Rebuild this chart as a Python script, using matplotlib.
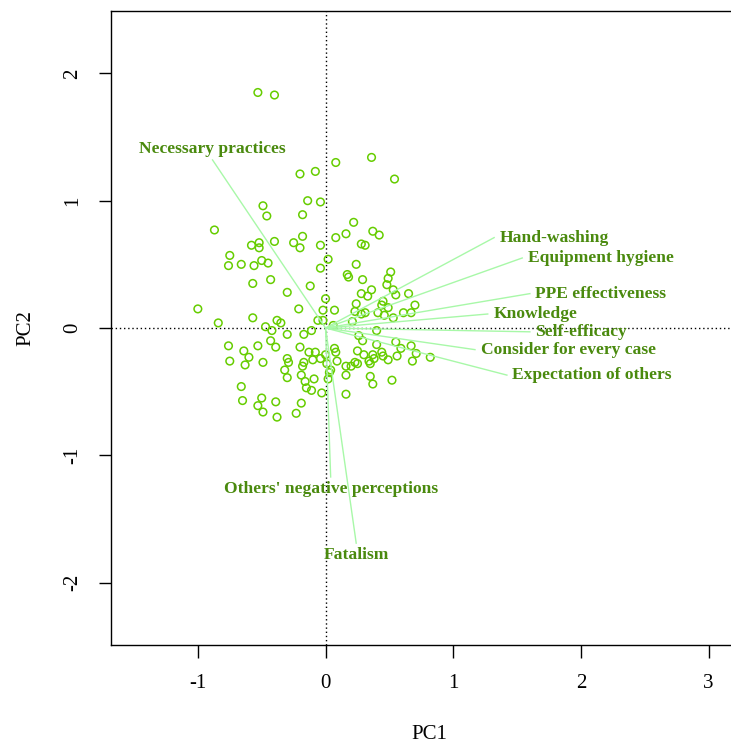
import numpy as np
import matplotlib
matplotlib.use("Agg")
import matplotlib.pyplot as plt

plt.rcParams["font.family"] = ["Liberation Serif", "DejaVu Serif"]
plt.rcParams["axes.unicode_minus"] = False

# individual scores (PC1, PC2)
pc1 = [-0.53, -0.40, 0.08, 0.36, 0.54, -0.20, -0.08, -0.14, -0.04, -0.49,
       -0.46, -0.18, 0.22, -0.87, -0.18, 0.08, 0.16, 0.37, 0.42, -0.58,
       -0.52, -0.52, -0.40, -0.25, -0.20, -0.04, 0.28, 0.31, -0.75, -0.76,
       -0.66, -0.56, -0.50, -0.45, 0.02, -0.04, 0.24, -0.57, -0.43, -0.30,
       -0.12, 0.17, 0.18, 0.29, 0.51, 0.49, 0.48, 0.53, 0.55, 0.65,
       0.36, 0.28, 0.33, 0.24, 0.45, 0.44, 0.49, 0.70, 0.61, 0.67,
       0.41, 0.46, 0.53, 0.23, 0.28, 0.31, 0.21, 0.07, 0.00, -0.02,
       -0.06, -0.02, 0.06, -0.21, -1.00, -0.84, -0.57, -0.38, -0.35, -0.47,
       -0.42, -0.30, -0.17, -0.11, 0.40, 0.26, 0.29, 0.40, 0.55, 0.59,
       0.67, 0.71, 0.82, 0.68, 0.56, 0.49, 0.44, 0.45, 0.37, 0.38,
       0.34, 0.35, 0.30, 0.25, 0.25, 0.23, 0.20, 0.16, 0.09, 0.07,
       0.08, 0.00, 0.01, 0.04, 0.03, 0.02, 0.16, 0.35, 0.37, 0.52,
       0.16, -0.03, -0.20, -0.13, -0.08, -0.10, -0.04, -0.17, -0.18, -0.19,
       -0.09, -0.16, -0.15, -0.11, -0.19, -0.76, -0.53, -0.43, -0.39, -0.64,
       -0.60, -0.75, -0.63, -0.49, -0.30, -0.29, -0.32, -0.30, -0.66, -0.65,
       -0.50, -0.53, -0.49, -0.39, -0.38, -0.23]
pc2 = [1.85, 1.83, 1.30, 1.34, 1.17, 1.21, 1.23, 1.00, 0.99, 0.96,
       0.88, 0.89, 0.83, 0.77, 0.72, 0.71, 0.74, 0.76, 0.73, 0.65,
       0.67, 0.63, 0.68, 0.67, 0.63, 0.65, 0.66, 0.65, 0.57, 0.49,
       0.50, 0.49, 0.53, 0.51, 0.54, 0.47, 0.50, 0.35, 0.38, 0.28,
       0.33, 0.42, 0.40, 0.38, 0.44, 0.39, 0.34, 0.30, 0.26, 0.27,
       0.30, 0.27, 0.25, 0.19, 0.21, 0.18, 0.16, 0.18, 0.12, 0.12,
       0.12, 0.10, 0.08, 0.13, 0.11, 0.12, 0.05, 0.14, 0.23, 0.14,
       0.06, 0.06, 0.02, 0.15, 0.15, 0.04, 0.08, 0.06, 0.04, 0.01,
       -0.02, -0.05, -0.05, -0.02, -0.02, -0.06, -0.10, -0.13, -0.11, -0.16,
       -0.14, -0.20, -0.23, -0.26, -0.22, -0.25, -0.19, -0.22, -0.21, -0.24,
       -0.26, -0.28, -0.21, -0.18, -0.28, -0.27, -0.30, -0.30, -0.26, -0.16,
       -0.19, -0.21, -0.28, -0.33, -0.35, -0.40, -0.37, -0.38, -0.44, -0.41,
       -0.52, -0.51, -0.15, -0.19, -0.19, -0.25, -0.24, -0.27, -0.30, -0.37,
       -0.40, -0.42, -0.47, -0.49, -0.59, -0.14, -0.14, -0.10, -0.15, -0.18,
       -0.23, -0.26, -0.29, -0.27, -0.24, -0.27, -0.33, -0.39, -0.46, -0.57,
       -0.55, -0.61, -0.66, -0.58, -0.70, -0.67]

# variable loadings (arrow tips) and label placement (R text pos: 1 below, 3 above, 4 right)
var_names = ["Necessary practices", "Hand-washing", "Equipment hygiene",
             "PPE effectiveness", "Knowledge", "Self-efficacy",
             "Consider for every case", "Expectation of others",
             "Others' negative perceptions", "Fatalism"]
load1 = [-0.885, 1.32, 1.54, 1.60, 1.27, 1.60, 1.17, 1.42, 0.04, 0.24]
load2 = [1.32, 0.71, 0.55, 0.27, 0.11, -0.03, -0.17, -0.37, -1.17, -1.69]
label_pos = [3, 4, 4, 4, 4, 4, 4, 4, 1, 1]

point_col = "#66CD00"   # chartreuse3
text_col = "#4A8A0E"
arrow_col = "#A8F8A8"

fig = plt.figure(figsize=(7.31, 7.49), dpi=100)
ax = fig.add_axes([111 / 731, 104 / 749, 636 / 731, 634 / 749])

ax.axhline(0, color="black", lw=1, ls=(0, (1, 2)), zorder=1)
ax.axvline(0, color="black", lw=1, ls=(0, (1, 2)), zorder=1)

ax.scatter(pc1, pc2, s=30, facecolors="none", edgecolors=point_col,
           linewidths=1.1, zorder=2)

for name, x, y, p in zip(var_names, load1, load2, label_pos):
    ax.plot([0, x], [0, y], color=arrow_col, lw=1, zorder=3)
    if p == 4:
        off, ha, va = (4, 0), "left", "center"
    elif p == 3:
        off, ha, va = (0, 2), "center", "bottom"
    else:
        off, ha, va = (0, -3), "center", "top"
    ax.annotate(name, (x, y), xytext=off, textcoords="offset points",
                ha=ha, va=va, color=text_col, fontsize=12.6, fontweight="bold",
                zorder=4)

ax.set_xlim(-1.68, 3.30)
ax.set_ylim(-2.49, 2.49)
ax.set_xticks([-1, 0, 1, 2, 3])
ax.set_yticks([-2, -1, 0, 1, 2])
ax.tick_params(direction="out", length=9, width=1, labelsize=15, pad=12)
for lab in ax.get_yticklabels():
    lab.set_rotation(90)
    lab.set_va("center")
for s in ax.spines.values():
    s.set_linewidth(1)

ax.set_xlabel("PC1", fontsize=15, labelpad=23)
ax.set_ylabel("PC2", fontsize=15, labelpad=20)

fig.savefig("out.png", dpi=100)
